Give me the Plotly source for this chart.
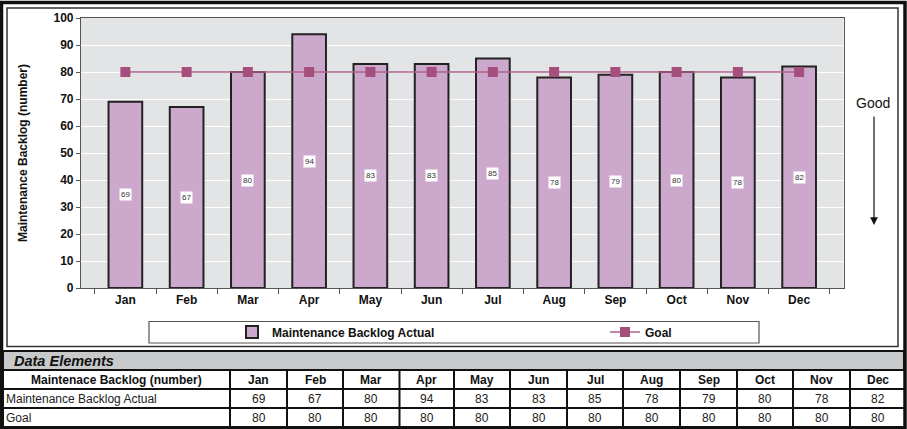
import plotly.graph_objects as go

W, H = 907, 429
months = ["Jan", "Feb", "Mar", "Apr", "May", "Jun", "Jul", "Aug", "Sep", "Oct", "Nov", "Dec"]
actual = [69, 67, 80, 94, 83, 83, 85, 78, 79, 80, 78, 82]
goal = [80, 80, 80, 80, 80, 80, 80, 80, 80, 80, 80, 80]
y_ticks = [0, 10, 20, 30, 40, 50, 60, 70, 80, 90, 100]
actual_name = "Maintenance Backlog Actual"
goal_name = "Goal"
table_title = "Maintenace Backlog (number)"
y_title = "Maintenance Backlog (number)"

FONT = "Arial, Liberation Sans, sans-serif"
BAR_COLOR = "#CCA8CC"
GOAL_COLOR = "#B0628C"
MARKER_COLOR = "#A5507C"

# table layout (pixel positions)
COL_EDGES = [3, 230, 287, 343, 399.5, 454, 510, 567, 623, 680, 737, 793, 850, 905]
ROW_EDGES = [370, 389, 408, 427]


def px(x):
    return x / W


def py(y):
    return 1 - y / H


fig = go.Figure()
fig.add_trace(go.Bar(
    x=months, y=actual, name=actual_name, legend="legend",
    marker=dict(color=BAR_COLOR, line=dict(color="#222222", width=2)),
    width=0.55, xaxis="x", yaxis="y",
))
fig.add_trace(go.Scatter(
    x=months, y=goal, name=goal_name, mode="lines+markers", legend="legend2",
    line=dict(color=GOAL_COLOR, width=1.5),
    marker=dict(symbol="square", size=10, color=MARKER_COLOR),
    xaxis="x", yaxis="y",
))

annotations = []
for m, v in zip(months, actual):
    annotations.append(dict(
        x=m, y=v / 2, xref="x", yref="y", text=str(v), showarrow=False,
        xanchor="center", yanchor="middle",
        font=dict(family=FONT, size=8, color="#333333"),
        bgcolor="white", borderpad=1,
    ))
annotations.append(dict(
    x=px(873), y=py(103), xref="paper", yref="paper", text="Good", showarrow=False,
    xanchor="center", yanchor="middle",
    font=dict(family=FONT, size=14, color="#111111"),
))
annotations.append(dict(
    x=px(874), y=py(225), xref="paper", yref="paper", text="", showarrow=True,
    ax=0, ay=-110, axref="pixel", ayref="pixel",
    arrowhead=2, arrowsize=1.3, arrowwidth=1.2, arrowcolor="#111111",
))
annotations.append(dict(
    x=px(12), y=py(360.5), xref="paper", yref="paper", xanchor="left", yanchor="middle",
    text="<b><i>Data Elements</i></b>", showarrow=False,
    font=dict(family=FONT, size=14.5, color="#111111"),
))

# table texts
rows = [
    [f"<b>{table_title}</b>"] + [f"<b>{m}</b>" for m in months],
    [actual_name] + [str(v) for v in actual],
    [goal_name] + [str(v) for v in goal],
]
for r, row in enumerate(rows):
    yc = (ROW_EDGES[r] + ROW_EDGES[r + 1]) / 2
    for c, txt in enumerate(row):
        x0, x1 = COL_EDGES[c], COL_EDGES[c + 1]
        if c == 0 and r > 0:
            annotations.append(dict(
                x=px(x0 + 1), y=py(yc), xref="paper", yref="paper", xanchor="left", yanchor="middle",
                text=txt, showarrow=False, font=dict(family=FONT, size=12, color="#222222"),
            ))
        else:
            annotations.append(dict(
                x=px((x0 + x1) / 2), y=py(yc), xref="paper", yref="paper",
                xanchor="center", yanchor="middle", text=txt, showarrow=False,
                font=dict(family=FONT, size=12, color="#111111" if r == 0 else "#222222"),
            ))

shapes = [
    dict(type="rect", xref="paper", yref="paper", x0=px(1.5), x1=px(905), y0=py(428), y1=py(2.5),
         line=dict(color="#111111", width=3.5), layer="above"),
    dict(type="rect", xref="paper", yref="paper", x0=px(7), x1=px(898), y0=py(346.5), y1=py(8),
         line=dict(color="#333333", width=1.5)),
    dict(type="rect", xref="paper", yref="paper", x0=px(3), x1=px(904), y0=py(370), y1=py(351),
         fillcolor="#C8C9CB", line=dict(color="#111111", width=2)),
    dict(type="rect", xref="paper", yref="paper", x0=px(149), x1=px(759), y0=py(343), y1=py(321.5),
         line=dict(color="#555555", width=1.2)),
]
for yv in ROW_EDGES:
    shapes.append(dict(type="line", xref="paper", yref="paper", x0=px(COL_EDGES[0]), x1=px(COL_EDGES[-1]),
                       y0=py(yv), y1=py(yv), line=dict(color="#111111", width=2)))
for xv in COL_EDGES:
    shapes.append(dict(type="line", xref="paper", yref="paper", x0=px(xv), x1=px(xv),
                       y0=py(ROW_EDGES[0]), y1=py(ROW_EDGES[-1]), line=dict(color="#111111", width=2)))

legend_font = dict(family=FONT, size=12, color="#111111", weight="bold")
axis_font = dict(family=FONT, size=12, color="#111111", weight="bold")
fig.update_layout(
    width=W, height=H,
    margin=dict(l=0, r=0, t=0, b=0, autoexpand=False),
    paper_bgcolor="white",
    plot_bgcolor="#E3E4E6",
    font=dict(family=FONT, color="#111111"),
    showlegend=True,
    legend=dict(
        orientation="h", x=px(232), y=py(332), xanchor="left", yanchor="middle",
        bgcolor="rgba(0,0,0,0)", font=legend_font, itemwidth=30,
    ),
    legend2=dict(
        orientation="h", x=px(605), y=py(332), xanchor="left", yanchor="middle",
        bgcolor="rgba(0,0,0,0)", font=legend_font, itemwidth=30,
    ),
    xaxis=dict(
        domain=[px(81), px(843.5)], anchor="y", automargin=False,
        type="category", tickson="boundaries", ticks="outside", ticklen=5,
        tickcolor="#555555", showline=True, linecolor="#555555", linewidth=1.2, mirror=True,
        tickfont=axis_font, showgrid=False,
    ),
    yaxis=dict(
        domain=[py(288), py(18)], anchor="x", automargin=False,
        range=[0, 100], tickvals=y_ticks, ticks="outside", ticklen=4,
        tickcolor="#555555", showline=True, linecolor="#555555", linewidth=1.2, mirror=True,
        gridcolor="white", gridwidth=1,
        tickfont=axis_font,
        title=dict(text=y_title, font=axis_font, standoff=23),
        zeroline=False,
    ),
    annotations=annotations,
    shapes=shapes,
)

fig.write_html(
    "out.html",
    config={"displayModeBar": False},
    post_script="document.body.style.margin='0';document.body.style.overflow='hidden';",
)
